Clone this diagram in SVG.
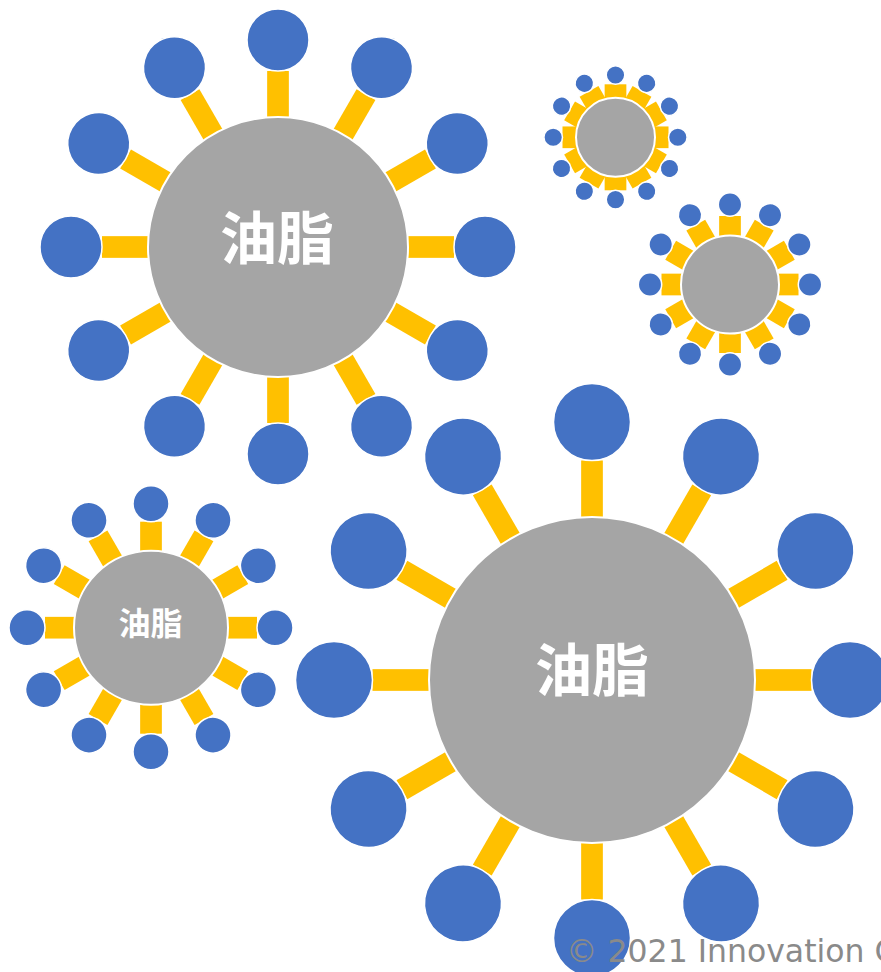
<svg xmlns="http://www.w3.org/2000/svg" width="881" height="972" viewBox="0 0 881 972">
<style>
.bar{fill:#FFC000}
.core{fill:#A5A5A5;stroke:#FFFFFF;stroke-width:2}
.head{fill:#4472C4;stroke:#FFFFFF;stroke-width:1.5}
.lbl{fill:#FFFFFF;font-family:"Noto Sans CJK JP","Noto Sans CJK SC",sans-serif;font-weight:bold;text-anchor:middle}
.copy{fill:#8A8A8A;font-family:"DejaVu Sans","Verdana",sans-serif;font-size:31.5px}
</style>
<defs>
<rect id="b1" class="bar" x="-10.85" y="-176" width="21.7" height="176"/>
<circle id="h1" class="head" cx="0" cy="-207" r="31"/>
<rect id="b2" class="bar" x="-10.85" y="-53" width="21.7" height="53"/>
<circle id="h2" class="head" cx="0" cy="-62.3" r="9.3"/>
<rect id="b3" class="bar" x="-10.85" y="-68.5" width="21.7" height="68.5"/>
<circle id="h3" class="head" cx="0" cy="-80" r="11.7"/>
<rect id="b4" class="bar" x="-10.85" y="-106" width="21.7" height="106"/>
<circle id="h4" class="head" cx="0" cy="-124" r="18"/>
<rect id="b5" class="bar" x="-10.85" y="-219.5" width="21.7" height="219.5"/>
<circle id="h5" class="head" cx="0" cy="-258" r="38.5"/>
</defs>
<g id="connectors">
<g transform="translate(278,247)">
<use href="#b1"/><use href="#b1" transform="rotate(30)"/><use href="#b1" transform="rotate(60)"/><use href="#b1" transform="rotate(90)"/><use href="#b1" transform="rotate(120)"/><use href="#b1" transform="rotate(150)"/><use href="#b1" transform="rotate(180)"/><use href="#b1" transform="rotate(210)"/><use href="#b1" transform="rotate(240)"/><use href="#b1" transform="rotate(270)"/><use href="#b1" transform="rotate(300)"/><use href="#b1" transform="rotate(330)"/>
</g>
<g transform="translate(615.5,137.3)">
<use href="#b2"/><use href="#b2" transform="rotate(30)"/><use href="#b2" transform="rotate(60)"/><use href="#b2" transform="rotate(90)"/><use href="#b2" transform="rotate(120)"/><use href="#b2" transform="rotate(150)"/><use href="#b2" transform="rotate(180)"/><use href="#b2" transform="rotate(210)"/><use href="#b2" transform="rotate(240)"/><use href="#b2" transform="rotate(270)"/><use href="#b2" transform="rotate(300)"/><use href="#b2" transform="rotate(330)"/>
</g>
<g transform="translate(730,284.5)">
<use href="#b3"/><use href="#b3" transform="rotate(30)"/><use href="#b3" transform="rotate(60)"/><use href="#b3" transform="rotate(90)"/><use href="#b3" transform="rotate(120)"/><use href="#b3" transform="rotate(150)"/><use href="#b3" transform="rotate(180)"/><use href="#b3" transform="rotate(210)"/><use href="#b3" transform="rotate(240)"/><use href="#b3" transform="rotate(270)"/><use href="#b3" transform="rotate(300)"/><use href="#b3" transform="rotate(330)"/>
</g>
<g transform="translate(151,627.7)">
<use href="#b4"/><use href="#b4" transform="rotate(30)"/><use href="#b4" transform="rotate(60)"/><use href="#b4" transform="rotate(90)"/><use href="#b4" transform="rotate(120)"/><use href="#b4" transform="rotate(150)"/><use href="#b4" transform="rotate(180)"/><use href="#b4" transform="rotate(210)"/><use href="#b4" transform="rotate(240)"/><use href="#b4" transform="rotate(270)"/><use href="#b4" transform="rotate(300)"/><use href="#b4" transform="rotate(330)"/>
</g>
<g transform="translate(592,680)">
<use href="#b5"/><use href="#b5" transform="rotate(30)"/><use href="#b5" transform="rotate(60)"/><use href="#b5" transform="rotate(90)"/><use href="#b5" transform="rotate(120)"/><use href="#b5" transform="rotate(150)"/><use href="#b5" transform="rotate(180)"/><use href="#b5" transform="rotate(210)"/><use href="#b5" transform="rotate(240)"/><use href="#b5" transform="rotate(270)"/><use href="#b5" transform="rotate(300)"/><use href="#b5" transform="rotate(330)"/>
</g>
</g>
<g id="micelle1" transform="translate(278,247)">
<circle class="core" cx="0" cy="0" r="130"/>
<use href="#h1"/><use href="#h1" transform="rotate(30)"/><use href="#h1" transform="rotate(60)"/><use href="#h1" transform="rotate(90)"/><use href="#h1" transform="rotate(120)"/><use href="#h1" transform="rotate(150)"/><use href="#h1" transform="rotate(180)"/><use href="#h1" transform="rotate(210)"/><use href="#h1" transform="rotate(240)"/><use href="#h1" transform="rotate(270)"/><use href="#h1" transform="rotate(300)"/><use href="#h1" transform="rotate(330)"/>
<text class="lbl" x="-1" y="12" font-size="57">油脂</text>
</g>
<g id="micelle2" transform="translate(615.5,137.3)">
<circle class="core" cx="0" cy="0" r="39.5"/>
<use href="#h2"/><use href="#h2" transform="rotate(30)"/><use href="#h2" transform="rotate(60)"/><use href="#h2" transform="rotate(90)"/><use href="#h2" transform="rotate(120)"/><use href="#h2" transform="rotate(150)"/><use href="#h2" transform="rotate(180)"/><use href="#h2" transform="rotate(210)"/><use href="#h2" transform="rotate(240)"/><use href="#h2" transform="rotate(270)"/><use href="#h2" transform="rotate(300)"/><use href="#h2" transform="rotate(330)"/>
</g>
<g id="micelle3" transform="translate(730,284.5)">
<circle class="core" cx="0" cy="0" r="49"/>
<use href="#h3"/><use href="#h3" transform="rotate(30)"/><use href="#h3" transform="rotate(60)"/><use href="#h3" transform="rotate(90)"/><use href="#h3" transform="rotate(120)"/><use href="#h3" transform="rotate(150)"/><use href="#h3" transform="rotate(180)"/><use href="#h3" transform="rotate(210)"/><use href="#h3" transform="rotate(240)"/><use href="#h3" transform="rotate(270)"/><use href="#h3" transform="rotate(300)"/><use href="#h3" transform="rotate(330)"/>
</g>
<g id="micelle4" transform="translate(151,627.7)">
<circle class="core" cx="0" cy="0" r="77"/>
<use href="#h4"/><use href="#h4" transform="rotate(30)"/><use href="#h4" transform="rotate(60)"/><use href="#h4" transform="rotate(90)"/><use href="#h4" transform="rotate(120)"/><use href="#h4" transform="rotate(150)"/><use href="#h4" transform="rotate(180)"/><use href="#h4" transform="rotate(210)"/><use href="#h4" transform="rotate(240)"/><use href="#h4" transform="rotate(270)"/><use href="#h4" transform="rotate(300)"/><use href="#h4" transform="rotate(330)"/>
<text class="lbl" x="-0.5" y="7" font-size="32">油脂</text>
</g>
<g id="micelle5" transform="translate(592,680)">
<circle class="core" cx="0" cy="0" r="163"/>
<use href="#h5"/><use href="#h5" transform="rotate(30)"/><use href="#h5" transform="rotate(60)"/><use href="#h5" transform="rotate(90)"/><use href="#h5" transform="rotate(120)"/><use href="#h5" transform="rotate(150)"/><use href="#h5" transform="rotate(180)"/><use href="#h5" transform="rotate(210)"/><use href="#h5" transform="rotate(240)"/><use href="#h5" transform="rotate(270)"/><use href="#h5" transform="rotate(300)"/><use href="#h5" transform="rotate(330)"/>
<text class="lbl" x="0" y="11" font-size="57">油脂</text>
</g>
<text id="copyright" class="copy" x="566" y="962">© 2021 Innovation C</text>
</svg>
